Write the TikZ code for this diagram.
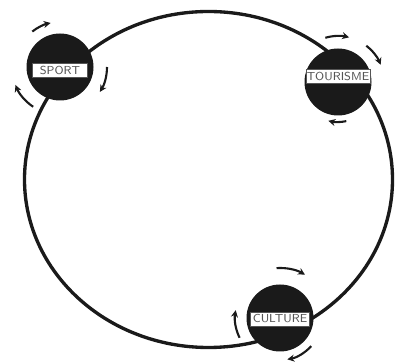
\documentclass[tikz,border=0pt]{standalone}
\usepackage{tikz}
\usetikzlibrary{arrows.meta,positioning}
\definecolor{RingInk}{HTML}{1A1A1A}
\definecolor{TagInk}{HTML}{555555}

\begin{document}
\begin{tikzpicture}[
    hub/.style={
      circle,
      fill=RingInk,
      minimum size=1.34cm,
      inner sep=0pt
    },
    tag/.style={
      rectangle,
      fill=white,
      draw=TagInk,
      line width=0.3pt,
      minimum height=0.28cm,
      inner sep=0.5pt,
      font=\fontsize{6.6}{7}\selectfont\sffamily,
      text=TagInk
    },
    turn/.style={
      -{Stealth[length=1.4mm,width=1.4mm]},
      line width=1.2pt,
      draw=RingInk
    }]

    \useasboundingbox (0,0) rectangle (8,7.28);

    % Ring
    \draw[RingInk,line width=1.9pt] (4.17,3.69) ellipse[x radius=3.68cm,y radius=3.36cm];

    % Sport
    \node[hub] (sport) at (1.2,5.94) {};
    \node[tag,minimum width=1.1cm] (sporttag) at ([yshift=-0.07cm]sport.center) {SPORT};

    % Tourisme
    \node[hub] (tourisme) at (6.76,5.64) {};
    \node[tag,minimum width=1.28cm] (tourismetag) at ([yshift=0.11cm]tourisme.center) {TOURISME};

    % Culture
    \node[hub] (culture) at (5.6,0.92) {};
    \node[tag,minimum width=1.18cm] (culturetag) at ([yshift=-0.02cm]culture.center) {CULTURE};

    % Turning arrows
    \draw[turn] ([shift={(128:0.9cm)}]sport.center) arc[start angle=128,end angle=102,radius=0.9cm];
    \draw[turn] ([shift={(0:0.94cm)}]sport.center) arc[start angle=0,end angle=-32,radius=0.94cm];
    \draw[turn] ([shift={(236:0.96cm)}]sport.center) arc[start angle=236,end angle=202,radius=0.96cm];

    \draw[turn] ([shift={(106:0.92cm)}]tourisme.center) arc[start angle=106,end angle=76,radius=0.92cm];
    \draw[turn] ([shift={(52:0.92cm)}]tourisme.center) arc[start angle=52,end angle=22,radius=0.92cm];
    \draw[turn] ([shift={(-78:0.8cm)}]tourisme.center) arc[start angle=-78,end angle=-104,radius=0.8cm];

    \draw[turn] ([shift={(94:1.0cm)}]culture.center) arc[start angle=94,end angle=60,radius=1.0cm];
    \draw[turn] ([shift={(-42:0.84cm)}]culture.center) arc[start angle=-42,end angle=-80,radius=0.84cm];
    \draw[turn] ([shift={(206:0.9cm)}]culture.center) arc[start angle=206,end angle=170,radius=0.9cm];
  \end{tikzpicture}
\end{document}
